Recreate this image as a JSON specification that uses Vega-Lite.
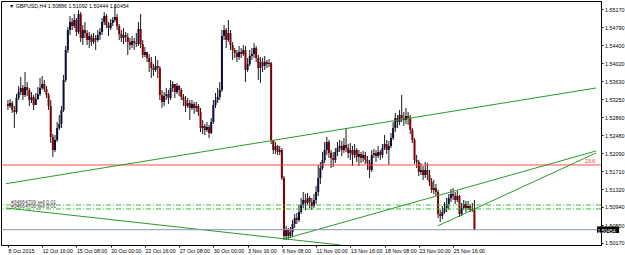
{
"$schema": "https://vega.github.io/schema/vega-lite/v6.json",
"width": 600, "height": 244,
"autosize": {"type": "none"},
"padding": {"left": 1, "top": 1, "right": 24, "bottom": 10},
"background": "#ffffff",
"config": {
"view": {"stroke": "#000000", "strokeWidth": 1},
"font": "Liberation Sans",
"axis": {"labelOverlap": false, "labelFlush": false, "labelBound": false, "grid": false, "title": null,
"labelColor": "#000", "tickColor": "#000", "domainColor": "#000", "tickSize": 2},
"axisX": {"labelAlign": "left", "labelBaseline": "top", "labelFontSize": 5.3, "labelPadding": 1},
"axisY": {"labelFontSize": 5.4, "labelPadding": 1.5, "labelAlign": "left", "labelBaseline": "middle"}
},
"datasets": {
"candles": [
{"i":0,"o":1.53143,"h":1.53229,"l":1.53015,"c":1.53101},
{"i":1,"o":1.53101,"h":1.53250,"l":1.53058,"c":1.53165},
{"i":2,"o":1.53165,"h":1.53208,"l":1.52951,"c":1.53015},
{"i":3,"o":1.53015,"h":1.53101,"l":1.52630,"c":1.52972},
{"i":4,"o":1.52972,"h":1.53357,"l":1.52930,"c":1.53272},
{"i":5,"o":1.53272,"h":1.53528,"l":1.53229,"c":1.53400},
{"i":6,"o":1.53400,"h":1.53721,"l":1.53336,"c":1.53486},
{"i":7,"o":1.53486,"h":1.53550,"l":1.53229,"c":1.53336},
{"i":8,"o":1.53336,"h":1.53828,"l":1.53293,"c":1.53507},
{"i":9,"o":1.53507,"h":1.53614,"l":1.53315,"c":1.53443},
{"i":10,"o":1.53443,"h":1.53486,"l":1.53101,"c":1.53229},
{"i":11,"o":1.53229,"h":1.53400,"l":1.53165,"c":1.53293},
{"i":12,"o":1.53293,"h":1.53336,"l":1.53015,"c":1.53122},
{"i":13,"o":1.53122,"h":1.53379,"l":1.53143,"c":1.53250},
{"i":14,"o":1.53250,"h":1.53507,"l":1.53229,"c":1.53357},
{"i":15,"o":1.53357,"h":1.53700,"l":1.53315,"c":1.53486},
{"i":16,"o":1.53486,"h":1.53742,"l":1.53443,"c":1.53571},
{"i":17,"o":1.53571,"h":1.53657,"l":1.53400,"c":1.53464},
{"i":18,"o":1.53464,"h":1.53528,"l":1.53272,"c":1.53336},
{"i":19,"o":1.53336,"h":1.53379,"l":1.53015,"c":1.53101},
{"i":20,"o":1.53101,"h":1.53229,"l":1.52309,"c":1.52438},
{"i":21,"o":1.52438,"h":1.52502,"l":1.52010,"c":1.52159},
{"i":22,"o":1.52159,"h":1.52480,"l":1.52117,"c":1.52373},
{"i":23,"o":1.52373,"h":1.52758,"l":1.52331,"c":1.52630},
{"i":24,"o":1.52630,"h":1.52908,"l":1.52587,"c":1.52716},
{"i":25,"o":1.52716,"h":1.53101,"l":1.52630,"c":1.53015},
{"i":26,"o":1.53015,"h":1.53764,"l":1.52972,"c":1.53657},
{"i":27,"o":1.53657,"h":1.54384,"l":1.53614,"c":1.54299},
{"i":28,"o":1.54299,"h":1.54790,"l":1.54234,"c":1.54726},
{"i":29,"o":1.54726,"h":1.55026,"l":1.54619,"c":1.54897},
{"i":30,"o":1.54897,"h":1.54983,"l":1.54726,"c":1.54812},
{"i":31,"o":1.54812,"h":1.55069,"l":1.54769,"c":1.54940},
{"i":32,"o":1.54940,"h":1.54983,"l":1.54598,"c":1.54684},
{"i":33,"o":1.54684,"h":1.55154,"l":1.54641,"c":1.55069},
{"i":34,"o":1.55069,"h":1.55111,"l":1.54470,"c":1.54555},
{"i":35,"o":1.54555,"h":1.54833,"l":1.54405,"c":1.54726},
{"i":36,"o":1.54726,"h":1.54897,"l":1.54555,"c":1.54662},
{"i":37,"o":1.54662,"h":1.54726,"l":1.54405,"c":1.54512},
{"i":38,"o":1.54512,"h":1.54684,"l":1.54341,"c":1.54598},
{"i":39,"o":1.54598,"h":1.54641,"l":1.54384,"c":1.54470},
{"i":40,"o":1.54470,"h":1.54662,"l":1.54427,"c":1.54555},
{"i":41,"o":1.54555,"h":1.54619,"l":1.54299,"c":1.54512},
{"i":42,"o":1.54512,"h":1.54726,"l":1.54470,"c":1.54619},
{"i":43,"o":1.54619,"h":1.54769,"l":1.54512,"c":1.54684},
{"i":44,"o":1.54684,"h":1.54983,"l":1.54619,"c":1.54897},
{"i":45,"o":1.54897,"h":1.55111,"l":1.54833,"c":1.55026},
{"i":46,"o":1.55026,"h":1.55069,"l":1.54769,"c":1.54833},
{"i":47,"o":1.54833,"h":1.54897,"l":1.54598,"c":1.54769},
{"i":48,"o":1.54769,"h":1.54962,"l":1.54726,"c":1.54876},
{"i":49,"o":1.54876,"h":1.55004,"l":1.54812,"c":1.54940},
{"i":50,"o":1.54940,"h":1.55240,"l":1.54897,"c":1.55004},
{"i":51,"o":1.55004,"h":1.55069,"l":1.54726,"c":1.54812},
{"i":52,"o":1.54812,"h":1.54855,"l":1.54512,"c":1.54641},
{"i":53,"o":1.54641,"h":1.54726,"l":1.54470,"c":1.54555},
{"i":54,"o":1.54555,"h":1.54769,"l":1.54427,"c":1.54619},
{"i":55,"o":1.54619,"h":1.54684,"l":1.54470,"c":1.54577},
{"i":56,"o":1.54577,"h":1.54662,"l":1.54192,"c":1.54470},
{"i":57,"o":1.54470,"h":1.54555,"l":1.54299,"c":1.54405},
{"i":58,"o":1.54405,"h":1.54598,"l":1.54341,"c":1.54491},
{"i":59,"o":1.54491,"h":1.54555,"l":1.54299,"c":1.54448},
{"i":60,"o":1.54448,"h":1.54662,"l":1.54363,"c":1.54427},
{"i":61,"o":1.54427,"h":1.54897,"l":1.54384,"c":1.54748},
{"i":62,"o":1.54748,"h":1.55069,"l":1.54341,"c":1.54427},
{"i":63,"o":1.54427,"h":1.54512,"l":1.54127,"c":1.54192},
{"i":64,"o":1.54192,"h":1.54363,"l":1.54149,"c":1.54256},
{"i":65,"o":1.54256,"h":1.54256,"l":1.54042,"c":1.54127},
{"i":66,"o":1.54127,"h":1.54213,"l":1.53828,"c":1.54042},
{"i":67,"o":1.54042,"h":1.54149,"l":1.53700,"c":1.53913},
{"i":68,"o":1.53913,"h":1.53999,"l":1.53742,"c":1.53871},
{"i":69,"o":1.53871,"h":1.54170,"l":1.53828,"c":1.53956},
{"i":70,"o":1.53956,"h":1.54085,"l":1.53700,"c":1.53913},
{"i":71,"o":1.53913,"h":1.53956,"l":1.53229,"c":1.53336},
{"i":72,"o":1.53336,"h":1.53443,"l":1.53058,"c":1.53186},
{"i":73,"o":1.53186,"h":1.53400,"l":1.53101,"c":1.53315},
{"i":74,"o":1.53315,"h":1.53486,"l":1.53229,"c":1.53357},
{"i":75,"o":1.53357,"h":1.53443,"l":1.53143,"c":1.53272},
{"i":76,"o":1.53272,"h":1.53657,"l":1.53229,"c":1.53486},
{"i":77,"o":1.53486,"h":1.53635,"l":1.53400,"c":1.53571},
{"i":78,"o":1.53571,"h":1.53550,"l":1.53272,"c":1.53400},
{"i":79,"o":1.53400,"h":1.53593,"l":1.53357,"c":1.53528},
{"i":80,"o":1.53528,"h":1.53550,"l":1.53315,"c":1.53443},
{"i":81,"o":1.53443,"h":1.53486,"l":1.53229,"c":1.53293},
{"i":82,"o":1.53293,"h":1.53357,"l":1.53101,"c":1.53229},
{"i":83,"o":1.53229,"h":1.53315,"l":1.52972,"c":1.53101},
{"i":84,"o":1.53101,"h":1.53272,"l":1.53058,"c":1.53165},
{"i":85,"o":1.53165,"h":1.53229,"l":1.52801,"c":1.53058},
{"i":86,"o":1.53058,"h":1.53229,"l":1.53015,"c":1.53143},
{"i":87,"o":1.53143,"h":1.53186,"l":1.52930,"c":1.53058},
{"i":88,"o":1.53058,"h":1.53186,"l":1.52972,"c":1.53101},
{"i":89,"o":1.53101,"h":1.53143,"l":1.52887,"c":1.52972},
{"i":90,"o":1.52972,"h":1.53058,"l":1.52545,"c":1.52630},
{"i":91,"o":1.52630,"h":1.52801,"l":1.52502,"c":1.52673},
{"i":92,"o":1.52673,"h":1.52716,"l":1.52480,"c":1.52587},
{"i":93,"o":1.52587,"h":1.52758,"l":1.52545,"c":1.52651},
{"i":94,"o":1.52651,"h":1.52694,"l":1.52416,"c":1.52523},
{"i":95,"o":1.52523,"h":1.52844,"l":1.52502,"c":1.52758},
{"i":96,"o":1.52758,"h":1.53229,"l":1.52716,"c":1.53122},
{"i":97,"o":1.53122,"h":1.53379,"l":1.53058,"c":1.53229},
{"i":98,"o":1.53229,"h":1.53486,"l":1.53165,"c":1.53293},
{"i":99,"o":1.53293,"h":1.53614,"l":1.53229,"c":1.53443},
{"i":100,"o":1.53443,"h":1.54726,"l":1.53400,"c":1.54598},
{"i":101,"o":1.54598,"h":1.54833,"l":1.54512,"c":1.54726},
{"i":102,"o":1.54726,"h":1.54769,"l":1.54341,"c":1.54512},
{"i":103,"o":1.54512,"h":1.54940,"l":1.54470,"c":1.54662},
{"i":104,"o":1.54662,"h":1.54726,"l":1.54299,"c":1.54405},
{"i":105,"o":1.54405,"h":1.54470,"l":1.54085,"c":1.54299},
{"i":106,"o":1.54299,"h":1.54341,"l":1.54127,"c":1.54234},
{"i":107,"o":1.54234,"h":1.54299,"l":1.54042,"c":1.54149},
{"i":108,"o":1.54149,"h":1.54384,"l":1.54085,"c":1.54256},
{"i":109,"o":1.54256,"h":1.54341,"l":1.54127,"c":1.54213},
{"i":110,"o":1.54213,"h":1.54405,"l":1.54170,"c":1.54299},
{"i":111,"o":1.54299,"h":1.54384,"l":1.53614,"c":1.53871},
{"i":112,"o":1.53871,"h":1.54127,"l":1.53828,"c":1.53999},
{"i":113,"o":1.53999,"h":1.54299,"l":1.53956,"c":1.54170},
{"i":114,"o":1.54170,"h":1.54341,"l":1.54085,"c":1.54213},
{"i":115,"o":1.54213,"h":1.54448,"l":1.54127,"c":1.54341},
{"i":116,"o":1.54341,"h":1.54384,"l":1.54042,"c":1.54127},
{"i":117,"o":1.54127,"h":1.54192,"l":1.53657,"c":1.53913},
{"i":118,"o":1.53913,"h":1.54149,"l":1.53593,"c":1.54042},
{"i":119,"o":1.54042,"h":1.54127,"l":1.53828,"c":1.53956},
{"i":120,"o":1.53956,"h":1.54170,"l":1.53871,"c":1.54042},
{"i":121,"o":1.54042,"h":1.54085,"l":1.53913,"c":1.53999},
{"i":122,"o":1.53999,"h":1.54106,"l":1.53935,"c":1.54020},
{"i":123,"o":1.54020,"h":1.54042,"l":1.52288,"c":1.52373},
{"i":124,"o":1.52373,"h":1.52373,"l":1.52074,"c":1.52159},
{"i":125,"o":1.52159,"h":1.52331,"l":1.52074,"c":1.52245},
{"i":126,"o":1.52245,"h":1.52266,"l":1.52053,"c":1.52117},
{"i":127,"o":1.52117,"h":1.52245,"l":1.52053,"c":1.52159},
{"i":128,"o":1.52159,"h":1.52202,"l":1.51518,"c":1.51561},
{"i":129,"o":1.51561,"h":1.51603,"l":1.50234,"c":1.50320},
{"i":130,"o":1.50320,"h":1.50534,"l":1.50234,"c":1.50448},
{"i":131,"o":1.50448,"h":1.50491,"l":1.50234,"c":1.50320},
{"i":132,"o":1.50320,"h":1.50512,"l":1.50277,"c":1.50405},
{"i":133,"o":1.50405,"h":1.50662,"l":1.50320,"c":1.50577},
{"i":134,"o":1.50577,"h":1.50791,"l":1.50491,"c":1.50705},
{"i":135,"o":1.50705,"h":1.50812,"l":1.50577,"c":1.50662},
{"i":136,"o":1.50662,"h":1.50983,"l":1.50619,"c":1.50833},
{"i":137,"o":1.50833,"h":1.51133,"l":1.50791,"c":1.50983},
{"i":138,"o":1.50983,"h":1.51261,"l":1.50919,"c":1.51090},
{"i":139,"o":1.51090,"h":1.51218,"l":1.50876,"c":1.51026},
{"i":140,"o":1.51026,"h":1.51240,"l":1.50983,"c":1.51133},
{"i":141,"o":1.51133,"h":1.51176,"l":1.50919,"c":1.51047},
{"i":142,"o":1.51047,"h":1.51133,"l":1.50876,"c":1.50962},
{"i":143,"o":1.50962,"h":1.51218,"l":1.50919,"c":1.51090},
{"i":144,"o":1.51090,"h":1.51389,"l":1.51004,"c":1.51261},
{"i":145,"o":1.51261,"h":1.51839,"l":1.51176,"c":1.51561},
{"i":146,"o":1.51561,"h":1.51903,"l":1.51432,"c":1.51774},
{"i":147,"o":1.51774,"h":1.52117,"l":1.51732,"c":1.51946},
{"i":148,"o":1.51946,"h":1.52331,"l":1.51881,"c":1.52159},
{"i":149,"o":1.52159,"h":1.52438,"l":1.52053,"c":1.52331},
{"i":150,"o":1.52331,"h":1.52373,"l":1.51988,"c":1.52095},
{"i":151,"o":1.52095,"h":1.52159,"l":1.51774,"c":1.51988},
{"i":152,"o":1.51988,"h":1.52117,"l":1.51796,"c":1.51946},
{"i":153,"o":1.51946,"h":1.52202,"l":1.51881,"c":1.52117},
{"i":154,"o":1.52117,"h":1.52331,"l":1.52031,"c":1.52202},
{"i":155,"o":1.52202,"h":1.52373,"l":1.52117,"c":1.52245},
{"i":156,"o":1.52245,"h":1.52352,"l":1.52031,"c":1.52159},
{"i":157,"o":1.52159,"h":1.52416,"l":1.52095,"c":1.52266},
{"i":158,"o":1.52266,"h":1.52630,"l":1.52117,"c":1.52202},
{"i":159,"o":1.52202,"h":1.52288,"l":1.51988,"c":1.52095},
{"i":160,"o":1.52095,"h":1.52309,"l":1.51946,"c":1.52159},
{"i":161,"o":1.52159,"h":1.52245,"l":1.51817,"c":1.52053},
{"i":162,"o":1.52053,"h":1.52288,"l":1.51988,"c":1.52159},
{"i":163,"o":1.52159,"h":1.52202,"l":1.51903,"c":1.52010},
{"i":164,"o":1.52010,"h":1.52159,"l":1.51817,"c":1.52074},
{"i":165,"o":1.52074,"h":1.52117,"l":1.51881,"c":1.51988},
{"i":166,"o":1.51988,"h":1.52138,"l":1.51903,"c":1.52053},
{"i":167,"o":1.52053,"h":1.52117,"l":1.51860,"c":1.51946},
{"i":168,"o":1.51946,"h":1.52031,"l":1.51732,"c":1.51881},
{"i":169,"o":1.51881,"h":1.51946,"l":1.51561,"c":1.51732},
{"i":170,"o":1.51732,"h":1.52159,"l":1.51689,"c":1.52053},
{"i":171,"o":1.52053,"h":1.52181,"l":1.51988,"c":1.52095},
{"i":172,"o":1.52095,"h":1.52159,"l":1.51903,"c":1.52031},
{"i":173,"o":1.52031,"h":1.52245,"l":1.51988,"c":1.52117},
{"i":174,"o":1.52117,"h":1.52159,"l":1.51946,"c":1.52053},
{"i":175,"o":1.52053,"h":1.52288,"l":1.51988,"c":1.52202},
{"i":176,"o":1.52202,"h":1.52480,"l":1.52159,"c":1.52288},
{"i":177,"o":1.52288,"h":1.52373,"l":1.52074,"c":1.52159},
{"i":178,"o":1.52159,"h":1.52352,"l":1.51839,"c":1.52245},
{"i":179,"o":1.52245,"h":1.52523,"l":1.52202,"c":1.52416},
{"i":180,"o":1.52416,"h":1.52758,"l":1.52373,"c":1.52630},
{"i":181,"o":1.52630,"h":1.52951,"l":1.52545,"c":1.52844},
{"i":182,"o":1.52844,"h":1.52908,"l":1.52630,"c":1.52758},
{"i":183,"o":1.52758,"h":1.53015,"l":1.52694,"c":1.52908},
{"i":184,"o":1.52908,"h":1.53336,"l":1.52758,"c":1.52844},
{"i":185,"o":1.52844,"h":1.52972,"l":1.52673,"c":1.52801},
{"i":186,"o":1.52801,"h":1.53058,"l":1.52716,"c":1.52887},
{"i":187,"o":1.52887,"h":1.52972,"l":1.52694,"c":1.52844},
{"i":188,"o":1.52844,"h":1.52908,"l":1.52502,"c":1.52587},
{"i":189,"o":1.52587,"h":1.52630,"l":1.52309,"c":1.52373},
{"i":190,"o":1.52373,"h":1.52416,"l":1.51860,"c":1.51946},
{"i":191,"o":1.51946,"h":1.52053,"l":1.51774,"c":1.51903},
{"i":192,"o":1.51903,"h":1.51946,"l":1.51603,"c":1.51689},
{"i":193,"o":1.51689,"h":1.51881,"l":1.51625,"c":1.51732},
{"i":194,"o":1.51732,"h":1.51817,"l":1.51518,"c":1.51625},
{"i":195,"o":1.51625,"h":1.51903,"l":1.51561,"c":1.51732},
{"i":196,"o":1.51732,"h":1.51881,"l":1.51518,"c":1.51625},
{"i":197,"o":1.51625,"h":1.51732,"l":1.51389,"c":1.51475},
{"i":198,"o":1.51475,"h":1.51561,"l":1.51240,"c":1.51304},
{"i":199,"o":1.51304,"h":1.51518,"l":1.51218,"c":1.51347},
{"i":200,"o":1.51347,"h":1.51432,"l":1.51176,"c":1.51261},
{"i":201,"o":1.51261,"h":1.51304,"l":1.50705,"c":1.50791},
{"i":202,"o":1.50791,"h":1.50876,"l":1.50619,"c":1.50748},
{"i":203,"o":1.50748,"h":1.50962,"l":1.50684,"c":1.50833},
{"i":204,"o":1.50833,"h":1.51047,"l":1.50791,"c":1.50919},
{"i":205,"o":1.50919,"h":1.51133,"l":1.50833,"c":1.51004},
{"i":206,"o":1.51004,"h":1.51218,"l":1.50876,"c":1.51133},
{"i":207,"o":1.51133,"h":1.51325,"l":1.51047,"c":1.51218},
{"i":208,"o":1.51218,"h":1.51347,"l":1.51090,"c":1.51176},
{"i":209,"o":1.51176,"h":1.51261,"l":1.51004,"c":1.51090},
{"i":210,"o":1.51090,"h":1.51283,"l":1.51047,"c":1.51176},
{"i":211,"o":1.51176,"h":1.51197,"l":1.50726,"c":1.50791},
{"i":212,"o":1.50791,"h":1.51026,"l":1.50748,"c":1.50919},
{"i":213,"o":1.50919,"h":1.51090,"l":1.50876,"c":1.51004},
{"i":214,"o":1.51004,"h":1.51069,"l":1.50833,"c":1.50919},
{"i":215,"o":1.50919,"h":1.51069,"l":1.50876,"c":1.50962},
{"i":216,"o":1.50962,"h":1.51004,"l":1.50833,"c":1.50876},
{"i":217,"o":1.50876,"h":1.51026,"l":1.50833,"c":1.50886},
{"i":218,"o":1.50886,"h":1.51092,"l":1.50444,"c":1.50454}
],
"trend": [
{"id":"a","i":-0.9,"p":1.51439},{"id":"a","i":274.8,"p":1.53486},
{"id":"b","i":-0.9,"p":1.50919},{"id":"b","i":155.3,"p":1.50127},
{"id":"c","i":129.1,"p":1.50256},{"id":"c","i":274.8,"p":1.52138},
{"id":"d","i":200.8,"p":1.50534},{"id":"d","i":274.8,"p":1.52095}
]
},
"layer": [
{
"data": {"name": "candles"},
"mark": {"type": "rule", "color": "#1a1a1a", "strokeWidth": 1},
"encoding": {
"x": {"field": "i", "type": "quantitative", "title": null,
"scale": {"domain": [-0.9, 274.8], "nice": false, "zero": false},
"axis": {"orient": "bottom", "values": [0,16,32,48,64,80,96,112,128,144,160,176,192,208], "tickCount": 30,
"labelExpr": "['8 Oct 2015','12 Oct 16:00','15 Oct 08:00','20 Oct 00:00','22 Oct 16:00','27 Oct 08:00','30 Oct 00:00','3 Nov 16:00','6 Nov 08:00','11 Nov 00:00','13 Nov 16:00','18 Nov 08:00','23 Nov 00:00','25 Nov 16:00'][round(datum.value/16)]",
"labelOverlap": false}},
"y": {"field": "l", "type": "quantitative", "title": null,
"scale": {"domain": [1.50127, 1.55347], "nice": false, "zero": false},
"axis": {"orient": "right", "values": [1.5017,1.5055,1.5094,1.5132,1.5171,1.5209,1.5248,1.5286,1.5325,1.5363,1.5402,1.544,1.5479,1.5517], "tickCount": 30,
"format": ".5f", "labelOverlap": false}},
"y2": {"field": "h"}
}
},
{
"data": {"name": "candles"},
"mark": {"type": "bar", "size": 2},
"encoding": {
"x": {"field": "i", "type": "quantitative", "title": null},
"y": {"field": "o", "type": "quantitative", "title": null},
"y2": {"field": "c"},
"color": {"condition": {"test": "datum.c >= datum.o", "value": "#0c0c3a"}, "value": "#800000"}
}
},
{
"data": {"values": [{"p": 1.51839, "label": "23.6"}]},
"layer": [
{"mark": {"type": "rule", "color": "#ff4a4a", "strokeWidth": 1},
"encoding": {"y": {"field": "p", "type": "quantitative", "title": null}}},
{"mark": {"type": "text", "color": "#ff2020", "fontSize": 5, "align": "right", "baseline": "bottom", "dy": -1, "dx": -1},
"encoding": {"x": {"datum": 274.8, "type": "quantitative"}, "y": {"field": "p", "type": "quantitative", "title": null}, "text": {"field": "label"}}}
]
},
{
"data": {"values": [{"p": 1.50983, "label": "#34664709 sell 0.01"}, {"p": 1.50898, "label": "#34664708 sell 0.01"}]},
"layer": [
{"mark": {"type": "rule", "color": "#3cbf3c", "strokeWidth": 1, "strokeDash": [5, 2, 1, 2]},
"encoding": {"y": {"field": "p", "type": "quantitative", "title": null}}},
{"mark": {"type": "text", "color": "#444", "fontSize": 5, "align": "left", "baseline": "bottom", "dx": 5, "dy": 0},
"encoding": {"x": {"datum": -0.9, "type": "quantitative"}, "y": {"field": "p", "type": "quantitative", "title": null}, "text": {"field": "label"}}}
]
},
{
"data": {"name": "trend"},
"mark": {"type": "line", "color": "#2a9a2a", "strokeWidth": 1, "clip": true},
"encoding": {
"x": {"field": "i", "type": "quantitative", "title": null},
"y": {"field": "p", "type": "quantitative", "title": null},
"detail": {"field": "id"}
}
},
{
"data": {"values": [{"p": 1.50454, "label": "1.50454"}]},
"layer": [
{"mark": {"type": "rule", "color": "#8a98aa", "strokeWidth": 1},
"encoding": {"y": {"field": "p", "type": "quantitative", "title": null}}},
{"mark": {"type": "rule", "color": "#000", "strokeWidth": 6.5, "strokeCap": "butt"},
"encoding": {"x": {"datum": 275.3, "type": "quantitative"}, "x2": {"datum": 285.6}, "y": {"field": "p", "type": "quantitative", "title": null}}},
{"mark": {"type": "text", "color": "#fff", "fontSize": 5, "align": "left", "baseline": "middle", "dx": 0.5, "dy": 1},
"encoding": {"x": {"datum": 275.3, "type": "quantitative"}, "y": {"field": "p", "type": "quantitative", "title": null}, "text": {"field": "label"}}}
]
},
{
"data": {"values": [{"label": "▼ GBPUSD,H4  1.50886 1.51092 1.50444 1.50454"}]},
"mark": {"type": "text", "color": "#000", "fontSize": 5.3, "align": "left", "baseline": "top", "dx": 3, "dy": 3},
"encoding": {"x": {"datum": -0.9, "type": "quantitative"}, "y": {"datum": 1.55347, "type": "quantitative"}, "text": {"field": "label"}}
}
]
}
